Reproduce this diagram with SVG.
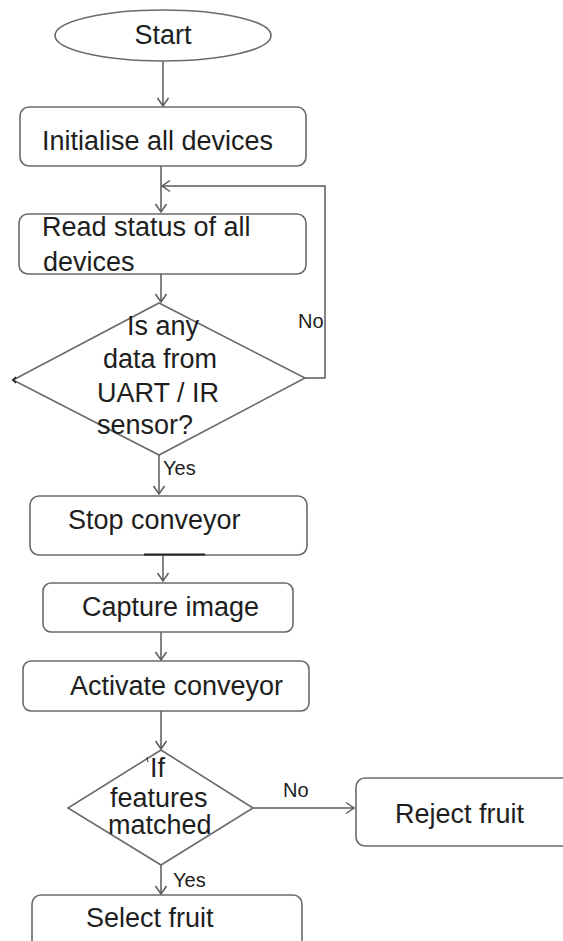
<svg xmlns="http://www.w3.org/2000/svg" width="563" height="941" viewBox="0 0 563 941">
  <style>
    .shape { fill: #ffffff; stroke: #6a6a6a; stroke-width: 1.6; }
    .label { font-family: "Liberation Sans", Arial, sans-serif; font-size: 27px; fill: #1e1e1e; }
    .small { font-family: "Liberation Sans", Arial, sans-serif; font-size: 20px; fill: #1e1e1e; }
    .wire { fill: none; stroke: #5a5a5a; stroke-width: 1.5; marker-end: url(#arrow); }
    .plain { fill: none; stroke: #5a5a5a; stroke-width: 1.5; }
  </style>
  <defs>
    <marker id="arrow" markerUnits="userSpaceOnUse" markerWidth="14" markerHeight="14" viewBox="-10 -7 12 14" refX="0" refY="0" orient="auto">
      <path d="M-8,-5.5 L0,0 L-8,5.5" fill="none" stroke="#5a5a5a" stroke-width="1.5"/>
    </marker>
  </defs>
  <rect width="563" height="941" fill="#ffffff"/>

  <!-- connectors -->
  <g id="connectors">
    <path class="wire" d="M163,61 V106"/>
    <path class="wire" d="M161,166 V212"/>
    <path class="wire" d="M305,378 H325 V186 H162"/>
    <path class="wire" d="M161,274 V302"/>
    <path class="wire" d="M159,455 V494"/>
    <path class="wire" d="M163,555 V581"/>
    <path class="wire" d="M161,632 V660"/>
    <path class="wire" d="M161,711 V749"/>
    <path class="wire" d="M253,808 H354"/>
    <path class="wire" d="M161,865 V894"/>
    <text class="small" x="298" y="328">No</text>
    <text class="small" x="163" y="475">Yes</text>
    <text class="small" x="283" y="797">No</text>
    <text class="small" x="173" y="887">Yes</text>
  </g>

  <g id="start">
    <ellipse class="shape" cx="163" cy="35.5" rx="108" ry="25.5"/>
    <text class="label" x="163" y="44" text-anchor="middle">Start</text>
  </g>

  <g id="init">
    <rect class="shape" x="20" y="107" width="286" height="59" rx="9"/>
    <text class="label" x="42" y="150">Initialise all devices</text>
  </g>

  <g id="read">
    <rect class="shape" x="19" y="214" width="287" height="60" rx="9"/>
    <text class="label" x="42" y="236">Read status of all</text>
    <text class="label" x="43" y="271">devices</text>
  </g>

  <g id="check-data">
    <polygon class="shape" points="159,303 305,378 159,455 13,380"/>
    <path d="M16,377 L13,380 L16,383" fill="none" stroke="#222" stroke-width="1.6"/>
    <text class="label" x="127" y="335">Is any</text>
    <text class="label" x="103" y="368">data from</text>
    <text class="label" x="97" y="402">UART / IR</text>
    <text class="label" x="97" y="434">sensor?</text>
  </g>

  <g id="stop">
    <rect class="shape" x="30" y="496" width="277" height="59" rx="9"/>
    <line x1="144" y1="554.5" x2="205" y2="554.5" stroke="#222" stroke-width="2.2"/>
    <text class="label" x="68" y="529">Stop conveyor</text>
  </g>

  <g id="capture">
    <rect class="shape" x="43" y="583" width="250" height="49" rx="8"/>
    <text class="label" x="82" y="616">Capture image</text>
  </g>

  <g id="activate">
    <rect class="shape" x="23" y="661" width="286" height="50" rx="8"/>
    <text class="label" x="70" y="695">Activate conveyor</text>
  </g>

  <g id="check-features">
    <polygon class="shape" points="161,750 253,808 161,865 68,808"/>
    <line x1="147" y1="757" x2="148" y2="762" stroke="#333" stroke-width="1"/>
    <text class="label" x="150" y="777">If</text>
    <text class="label" x="110" y="807">features</text>
    <text class="label" x="108" y="834">matched</text>
  </g>

  <g id="reject">
    <rect class="shape" x="356" y="778" width="215" height="68" rx="9"/>
    <text class="label" x="395" y="823">Reject fruit</text>
  </g>

  <g id="select">
    <rect class="shape" x="32" y="895" width="270" height="60" rx="9"/>
    <text class="label" x="86" y="927">Select fruit</text>
  </g>
</svg>
